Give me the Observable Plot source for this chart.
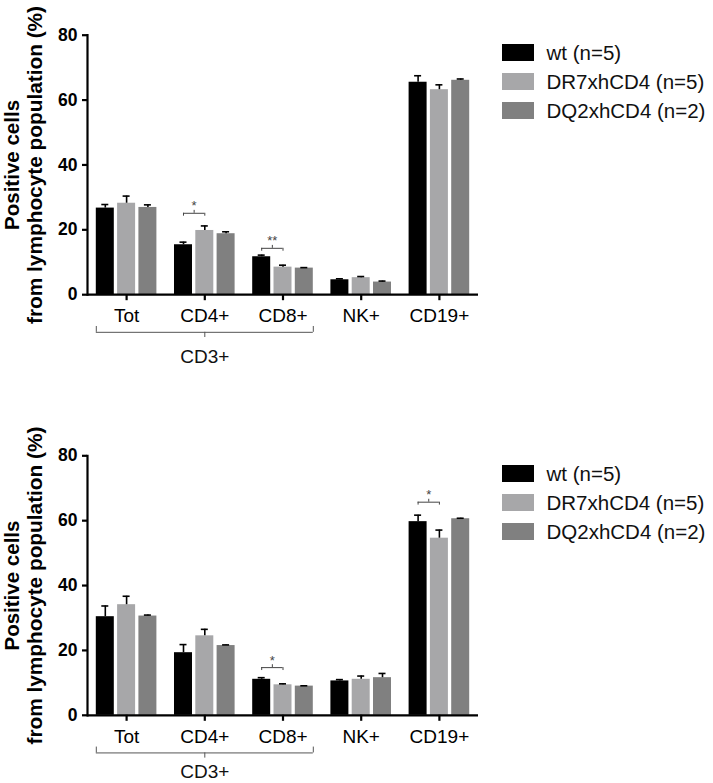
<!DOCTYPE html>
<html>
<head>
<meta charset="utf-8">
<script src="https://cdn.jsdelivr.net/npm/d3@7"></script>
<script src="https://cdn.jsdelivr.net/npm/@observablehq/plot@0.6"></script>
<style>
  html, body { margin: 0; padding: 0; background: #fff; }
  #wrap { position: relative; width: 713px; height: 783px; font-family: "Liberation Sans", Arial, sans-serif; }
  .panel { position: absolute; left: 0; width: 713px; }
  .legend { position: absolute; left: 502px; }
  .row { display: flex; align-items: center; height: 17px; margin-bottom: 12px; }
  .sw { width: 32px; height: 17px; margin-right: 12.5px; }
  .lab { font-size: 20.5px; color: #111; white-space: nowrap; line-height: 17px; }
</style>
</head>
<body>
<div id="wrap"></div>
<script>
// ---- data ----
const categories = ["Tot", "CD4+", "CD8+", "NK+", "CD19+"];
const series = ["wt (n=5)", "DR7xhCD4 (n=5)", "DQ2xhCD4 (n=2)"];
const colors = ["#000000", "#a7a7a9", "#808080"];
const yTicks = [0, 20, 40, 60, 80];
const yTitleLines = ["Positive cells", "from lymphocyte population (%)"];

// Panel 1 (top)
const top_wt = [26.7, 15.4, 11.7, 4.6, 65.5];
const top_wt_err = [1.1, 0.8, 0.5, 0.3, 2.0];
const top_dr7 = [28.2, 19.8, 8.5, 5.25, 63.2];
const top_dr7_err = [2.2, 1.4, 0.6, 0.35, 1.5];
const top_dq2 = [26.9, 18.8, 8.2, 3.9, 66.1];
const top_dq2_err = [0.8, 0.6, 0.15, 0.3, 0.4];
const top_sigCats = ["CD4+", "CD8+"];
const top_sigY = [25.1, 14.3];
const top_sigLabels = ["*", "**"];

// Panel 2 (bottom)
const bot_wt = [30.4, 19.3, 11.1, 10.6, 59.7];
const bot_wt_err = [3.3, 2.5, 0.5, 0.4, 2.0];
const bot_dr7 = [34.1, 24.5, 9.4, 11.1, 54.6];
const bot_dr7_err = [2.6, 2.0, 0.3, 1.0, 2.5];
const bot_dq2 = [30.6, 21.5, 9.0, 11.6, 60.6];
const bot_dq2_err = [0.3, 0.2, 0.1, 1.3, 0.15];
const bot_sigCats = ["CD8+", "CD19+"];
const bot_sigY = [14.7, 65.7];
const bot_sigLabels = ["*", "*"];

// Grouping brace under the axis
const braceLabel = "CD3+";
const braceFrom = "Tot";
const braceTo = "CD8+";
const braceMid = "CD4+";
const braceY = -11.6;
const top_braceLabelY = -19.2;
const bot_braceLabelY = -17.4;

// ---- layout ----
const W = 713, mL = 87, mR = 235;
const pInner = 0.225, pOuter = 0.1125;
const plotW = W - mL - mR;
const step = plotW / (categories.length - pInner + 2 * pOuter);
const bw = step * (1 - pInner);
const gap = 3.3;
const barW = (bw - 2 * gap) / 3;
const barLeft = i => i * (barW + gap);
const barCenter = i => barLeft(i) + barW / 2;
const capW = 7;
const font = "'Liberation Sans', Arial, sans-serif";
const titleLengths = [130, 318];

function makeChart(values, errs, sigCats, sigY, sigLabels, braceLabelY, marginTop, height) {
  const marginBottom = height - marginTop - 259.5;
  const marks = [];
  series.forEach((s, i) => {
    const rows = categories.map((c, k) => ({cat: c, value: values[i][k], err: errs[i][k]}));
    marks.push(Plot.barY(rows, {
      x: "cat", y: "value", fill: colors[i],
      insetLeft: barLeft(i), insetRight: bw - barLeft(i) - barW
    }));
    marks.push(Plot.ruleX(rows, {
      x: "cat", y1: "value", y2: d => d.value + d.err,
      dx: barCenter(i) - bw / 2, stroke: "#000", strokeWidth: 1.6
    }));
    marks.push(Plot.tickY(rows, {
      x: "cat", y: d => d.value + d.err,
      insetLeft: barCenter(i) - capW / 2, insetRight: bw - barCenter(i) - capW / 2,
      stroke: "#000", strokeWidth: 1.6
    }));
  });
  // significance brackets
  const sig = sigCats.map((c, k) => ({cat: c, y: sigY[k], label: sigLabels[k]}));
  const midDx = (barCenter(0) + barCenter(1)) / 2 - bw / 2;
  marks.push(Plot.ruleY(sig, {
    x1: "cat", x2: "cat", y: "y",
    insetLeft: barCenter(0), insetRight: bw - barCenter(1),
    stroke: "#444", strokeWidth: 1
  }));
  [0, 1].forEach(j => marks.push(Plot.ruleX(sig, {
    x: "cat", y1: "y", y2: d => d.y - 0.9, dx: barCenter(j) - bw / 2,
    stroke: "#444", strokeWidth: 1
  })));
  marks.push(Plot.ruleX(sig, {
    x: "cat", y1: "y", y2: d => d.y + 0.9, dx: midDx, stroke: "#444", strokeWidth: 1
  }));
  marks.push(Plot.text(sig, {
    x: "cat", y: d => d.y + 0.9, text: "label", dx: midDx,
    lineAnchor: "bottom", fontSize: 13, fill: "#444"
  }));
  // brace
  marks.push(Plot.ruleY([braceY], {
    y: d => d, x1: () => braceFrom, x2: () => braceTo, stroke: "#555", strokeWidth: 1
  }));
  marks.push(Plot.ruleX([braceFrom], {x: d => d, y1: braceY, y2: braceY + 1.8, dx: -bw / 2, stroke: "#555", strokeWidth: 1}));
  marks.push(Plot.ruleX([braceTo], {x: d => d, y1: braceY, y2: braceY + 1.8, dx: bw / 2, stroke: "#555", strokeWidth: 1}));
  marks.push(Plot.ruleX([braceMid], {x: d => d, y1: braceY, y2: braceY - 1.6, stroke: "#555", strokeWidth: 1}));
  marks.push(Plot.text([braceLabel], {x: () => braceMid, y: () => braceLabelY, text: d => d, fontSize: 19, fill: "#111"}));
  // axes
  marks.push(Plot.ruleY([0], {stroke: "#000", strokeWidth: 2.2}));
  marks.push(Plot.frame({anchor: "left", stroke: "#000", strokeWidth: 2.2}));
  marks.push(Plot.axisY({ticks: yTicks, tickSize: 5, tickPadding: 5, fontSize: 17.5, fontWeight: "bold", strokeWidth: 2.2, label: null}));
  marks.push(Plot.axisX({tickSize: 6, tickPadding: 8, fontSize: 19, strokeWidth: 2.2, label: null}));
  marks.push(Plot.text([yTitleLines.join("\n")], {
    text: d => d, frameAnchor: "left", rotate: -90, dx: 22.5 - mL,
    fontSize: 21, fontWeight: "bold", lineHeight: 1.1, textAnchor: "middle", lineAnchor: "middle", fill: "#000"
  }));
  return Plot.plot({
    width: W, height, marginLeft: mL, marginRight: mR, marginTop, marginBottom,
    style: {fontFamily: font, color: "#000", background: "transparent", overflow: "visible"},
    x: {type: "band", domain: categories, paddingInner: pInner, paddingOuter: pOuter, round: false, axis: null},
    y: {domain: [0, 80], axis: null},
    marks
  });
}

function makeLegend(top) {
  const lg = document.createElement("div");
  lg.className = "legend";
  lg.style.top = top + "px";
  series.forEach((s, i) => {
    const row = document.createElement("div");
    row.className = "row";
    const sw = document.createElement("div");
    sw.className = "sw";
    sw.style.background = colors[i];
    const lab = document.createElement("span");
    lab.className = "lab";
    lab.textContent = s;
    row.appendChild(sw); row.appendChild(lab);
    lg.appendChild(row);
  });
  return lg;
}

const wrap = document.getElementById("wrap");
const panels = [
  {top: 0, mt: 34.7, h: 390, v: [top_wt, top_dr7, top_dq2], e: [top_wt_err, top_dr7_err, top_dq2_err], sc: top_sigCats, sy: top_sigY, sl: top_sigLabels, bl: top_braceLabelY},
  {top: 390, mt: 65.3, h: 393, v: [bot_wt, bot_dr7, bot_dq2], e: [bot_wt_err, bot_dr7_err, bot_dq2_err], sc: bot_sigCats, sy: bot_sigY, sl: bot_sigLabels, bl: bot_braceLabelY}
];
panels.forEach(p => {
  const div = document.createElement("div");
  div.className = "panel";
  div.style.top = p.top + "px";
  div.style.height = p.h + "px";
  const svg = makeChart(p.v, p.e, p.sc, p.sy, p.sl, p.bl, p.mt, p.h);
  div.appendChild(svg);
  div.appendChild(makeLegend(p.mt + 9.3));
  wrap.appendChild(div);
  // stretch the y-axis title lines to the reference lengths
  d3.select(svg).selectAll("tspan").each(function () {
    const k = yTitleLines.indexOf(this.textContent);
    if (k >= 0) {
      this.setAttribute("textLength", titleLengths[k]);
      this.setAttribute("lengthAdjust", "spacingAndGlyphs");
    }
  });
});
</script>
</body>
</html>
